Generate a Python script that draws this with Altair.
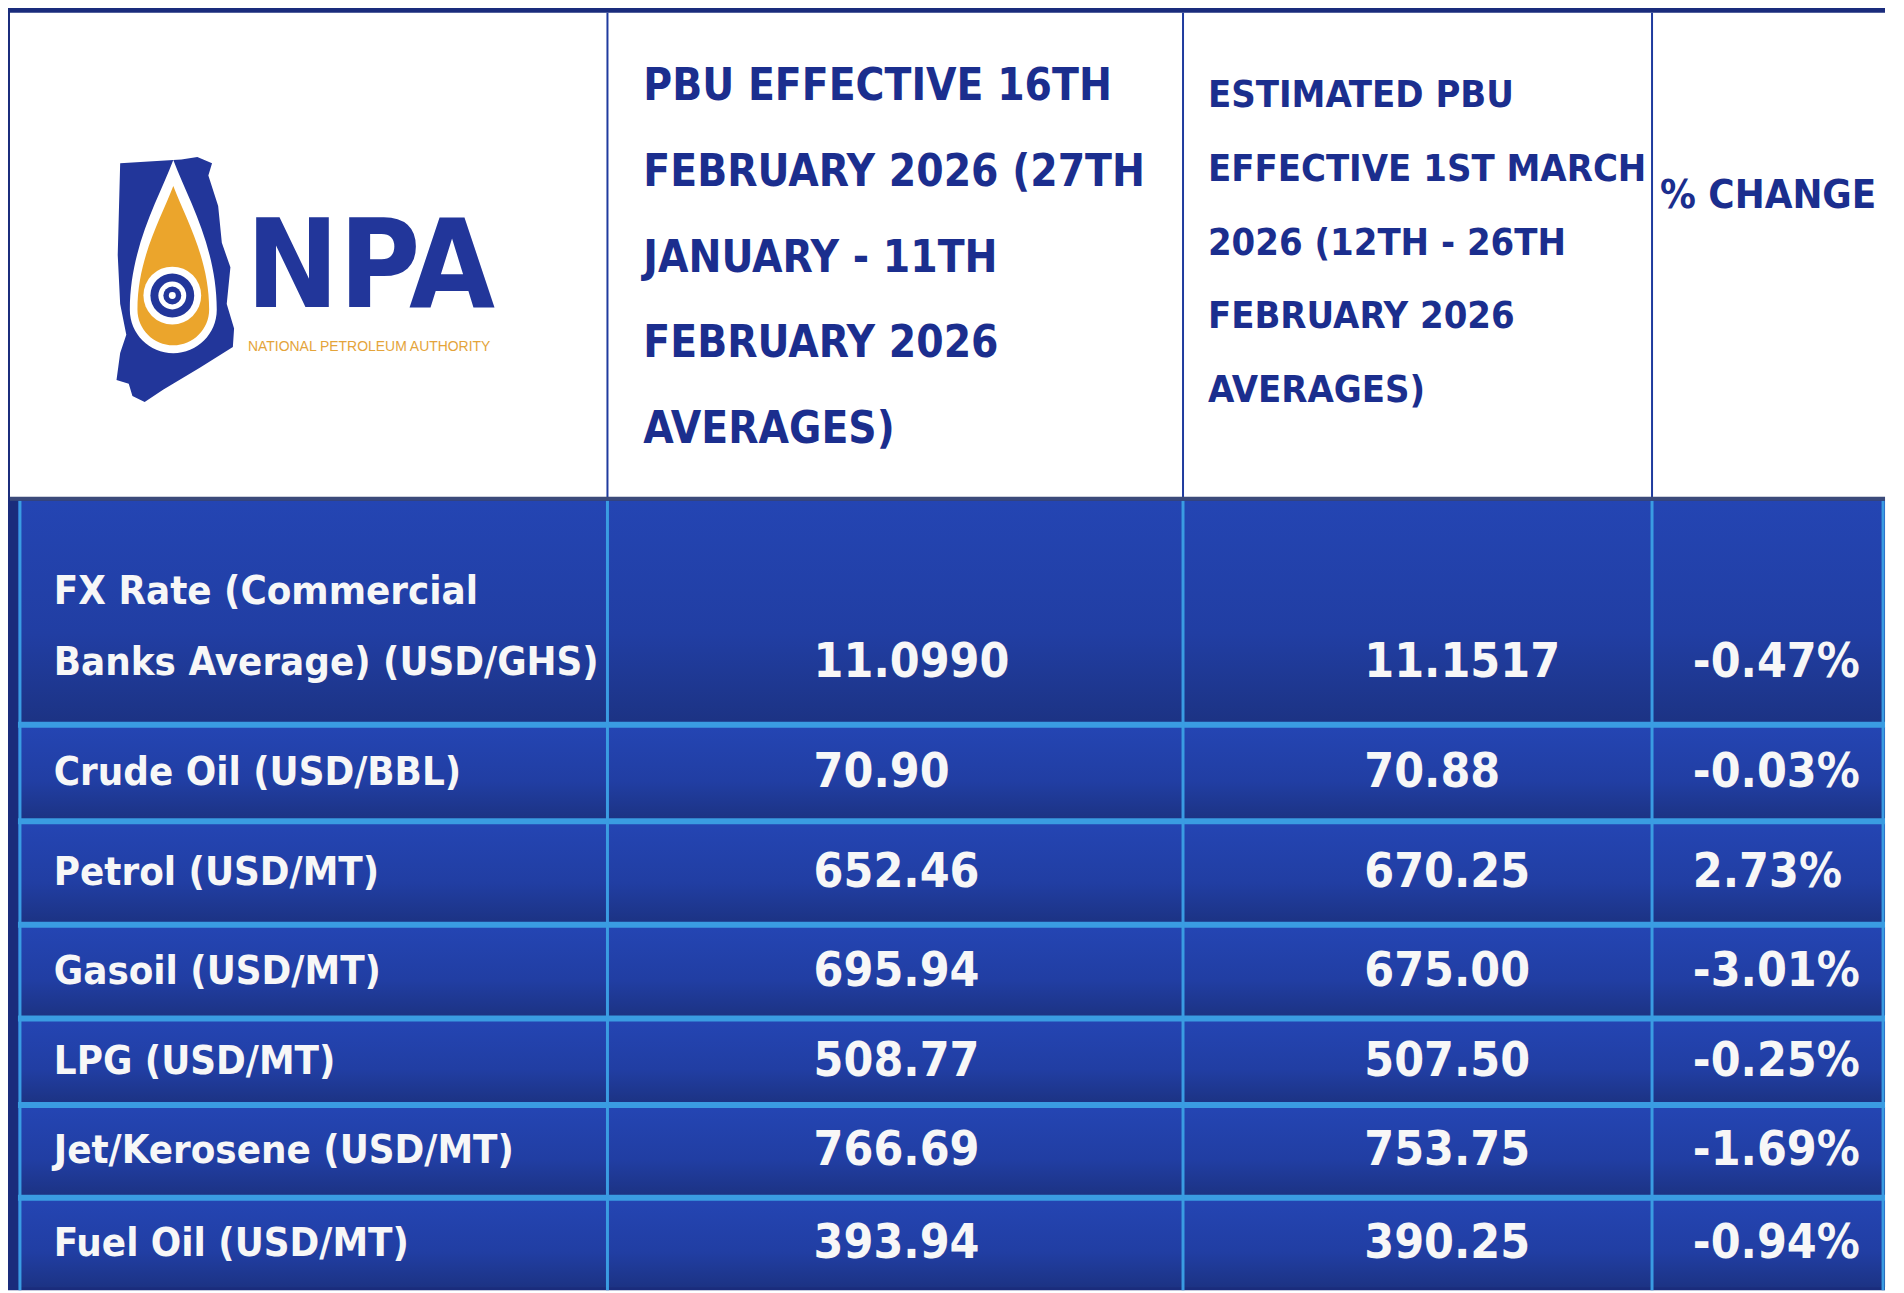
import altair as alt
import pandas as pd

# ------------------------------------------------------------------ data
items = [
    "FX Rate (Commercial\nBanks Average) (USD/GHS)",
    "Crude Oil (USD/BBL)",
    "Petrol (USD/MT)",
    "Gasoil (USD/MT)",
    "LPG (USD/MT)",
    "Jet/Kerosene (USD/MT)",
    "Fuel Oil (USD/MT)",
]
pbu_16_feb = [11.0990, 70.90, 652.46, 695.94, 508.77, 766.69, 393.94]
pbu_1_mar_est = [11.1517, 70.88, 670.25, 675.00, 507.50, 753.75, 390.25]
pct_change = [-0.47, -0.03, 2.73, -3.01, -0.25, -1.69, -0.94]
decimals = [4, 2, 2, 2, 2, 2, 2]

headers = [
    "PBU EFFECTIVE 16TH\nFEBRUARY 2026 (27TH\nJANUARY - 11TH\nFEBRUARY 2026\nAVERAGES)",
    "ESTIMATED PBU\nEFFECTIVE 1ST MARCH\n2026 (12TH - 26TH\nFEBRUARY 2026\nAVERAGES)",
    "% CHANGE",
]
logo_word = "NPA"
logo_tagline = "NATIONAL PETROLEUM AUTHORITY"

# ------------------------------------------------------------------ layout / style
OFF = 8
W, H = 1904, 1293
TABLE_RIGHT = 1893
COL_EDGES = [0, 610, 1188, 1659]
HEADER_TOP, HEADER_BOTTOM = 10, 498
ROW_EDGES = [498, 725, 822, 926, 1020, 1107, 1200, 1293]

NAVY = "#1a2c7c"
HEAD_TXT = "#1b2e8e"
SEP = "#3a9ce2"
ORANGE = "#e4a43a"
FONT = "DejaVu Sans Condensed, DejaVu Sans, sans-serif"

xs = alt.Scale(domain=[OFF, W], range=[0, W - OFF], nice=False, zero=False)
ys = alt.Scale(domain=[OFF, H], range=[0, H - OFF], nice=False, zero=False)


def X(f):
    return alt.X(f, type="quantitative", scale=xs, axis=None)


def Y(f):
    return alt.Y(f, type="quantitative", scale=ys, axis=None)


# ---- structural rectangles
rects = []
rects.append(dict(x=0, x2=TABLE_RIGHT, y=0, y2=H, fill=NAVY))
rects.append(dict(x=10, x2=TABLE_RIGHT, y=HEADER_TOP, y2=HEADER_BOTTOM, fill="#ffffff"))
rects.append(dict(x=TABLE_RIGHT, x2=W, y=0, y2=H, fill="#ffffff"))
rects_df = pd.DataFrame(rects)

row_bg = []
for i in range(len(items)):
    row_bg.append(dict(x=18, x2=TABLE_RIGHT, y=ROW_EDGES[i] + 2, y2=ROW_EDGES[i + 1] - 3))
row_bg_df = pd.DataFrame(row_bg)

lines = []
for e in ROW_EDGES[1:-1]:
    lines.append(dict(x=18, x2=TABLE_RIGHT, y=e - 3, y2=e + 3, fill=SEP))
for e in [20] + COL_EDGES[1:] + [TABLE_RIGHT - 2]:
    lines.append(dict(x=e - 1.5, x2=e + 1.5, y=HEADER_BOTTOM + 2, y2=H, fill=SEP))
for e in COL_EDGES[1:]:
    lines.append(dict(x=e - 1, x2=e + 1, y=HEADER_TOP, y2=HEADER_BOTTOM, fill="#1f3b9e"))
lines.append(dict(x=10, x2=TABLE_RIGHT, y=HEADER_BOTTOM - 2, y2=HEADER_BOTTOM + 2, fill="#3b4a7a"))
lines_df = pd.DataFrame(lines)

base_rect = alt.Chart(rects_df).mark_rect(stroke=None).encode(
    x=X("x"), x2="x2", y=Y("y"), y2="y2", fill=alt.Fill("fill:N", scale=None)
)
row_layer = alt.Chart(row_bg_df).mark_rect(
    fill=alt.LinearGradient(
        gradient="linear",
        stops=[
            alt.GradientStop(offset=0, color="#2445b3"),
            alt.GradientStop(offset=0.6, color="#213ea3"),
            alt.GradientStop(offset=1, color="#1c3384"),
        ],
        x1=0, x2=0, y1=0, y2=1,
    )
).encode(x=X("x"), x2="x2", y=Y("y"), y2="y2")
line_layer = alt.Chart(lines_df).mark_rect().encode(
    x=X("x"), x2="x2", y=Y("y"), y2="y2", fill=alt.Fill("fill:N", scale=None)
)

# ---- header text
HEAD_X = [646, 1213, 1667]
HEAD_Y0 = [85, 94, 194]
HEAD_STEP = [86, 74, 0]
HEAD_SIZE = [44, 38, 40]
head_rows = []
for c, htxt in enumerate(headers):
    for k, ln in enumerate(htxt.split("\n")):
        head_rows.append(dict(x=HEAD_X[c], y=HEAD_Y0[c] + k * HEAD_STEP[c], t=ln, s=HEAD_SIZE[c]))
head_df = pd.DataFrame(head_rows)
head_layer = alt.Chart(head_df).mark_text(
    align="left", baseline="middle", font=FONT, fontWeight="bold", color=HEAD_TXT
).encode(x=X("x"), y=Y("y"), text="t:N", size=alt.Size("s:Q", scale=None))

# ---- body text
LABEL_X = 54
LINE_STEP = 72
MULTI_SHIFT = 16
VAL_X = [817, 1370, 1700]
label_rows, value_rows = [], []
for i, lab in enumerate(items):
    parts = lab.split("\n")
    n = len(parts)
    cy = (ROW_EDGES[i] + ROW_EDGES[i + 1]) / 2
    shift = MULTI_SHIFT if n > 1 else 0
    ys_lines = [cy + (k - (n - 1) / 2) * LINE_STEP + shift for k in range(n)]
    for k, p in enumerate(parts):
        label_rows.append(dict(x=LABEL_X, y=ys_lines[k], t=p))
    vy = ys_lines[-1]
    d = decimals[i]
    value_rows.append(dict(x=VAL_X[0], y=vy, t=f"{pbu_16_feb[i]:.{d}f}"))
    value_rows.append(dict(x=VAL_X[1], y=vy, t=f"{pbu_1_mar_est[i]:.{d}f}"))
    value_rows.append(dict(x=VAL_X[2], y=vy, t=f"{pct_change[i]:.2f}%"))

label_layer = alt.Chart(pd.DataFrame(label_rows)).mark_text(
    align="left", baseline="middle", font=FONT, fontWeight="bold", fontSize=40, color="#f7f7f7"
).encode(x=X("x"), y=Y("y"), text="t:N")
value_layer = alt.Chart(pd.DataFrame(value_rows)).mark_text(
    align="left", baseline="middle", font=FONT, fontWeight="bold", fontSize=48, color="#f7f7f7"
).encode(x=X("x"), y=Y("y"), text="t:N")

# ---- logo
GHANA = ("M -0.45 -0.95 L 0.05 -0.98 L 0.18 -1 L 0.3 -0.95 L 0.27 -0.85 L 0.35 -0.6 "
         "L 0.38 -0.3 L 0.45 -0.1 L 0.42 0.2 L 0.48 0.4 L 0.47 0.55 L 0.2 0.72 L -0.1 0.9 "
         "L -0.25 1.0 L -0.35 0.95 L -0.38 0.85 L -0.48 0.82 L -0.45 0.6 L -0.4 0.45 "
         "L -0.45 0.2 L -0.47 -0.2 Z")
DROP = ("M 0 -1 C 0.15 -0.6 0.45 -0.1 0.45 0.55 A 0.45 0.45 0 0 1 -0.45 0.55 "
        "C -0.45 -0.1 -0.15 -0.6 0 -1 Z")
logo_df = pd.DataFrame([
    dict(x=176, y=278, shape=GHANA, size=246 ** 2, fill="#22369a"),
    dict(x=174, y=255, shape=DROP, size=194 ** 2, fill="#ffffff"),
    dict(x=174, y=264, shape=DROP, size=160 ** 2, fill="#eba52c"),
    dict(x=173, y=294, shape="circle", size=58 ** 2, fill="#ffffff"),
    dict(x=173, y=294, shape="circle", size=44 ** 2, fill="#22369a"),
    dict(x=173, y=294, shape="circle", size=28 ** 2, fill="#ffffff"),
    dict(x=173, y=294, shape="circle", size=18 ** 2, fill="#22369a"),
    dict(x=173, y=294, shape="circle", size=7 ** 2, fill="#ffffff"),
])
logo_layer = alt.Chart(logo_df).mark_point(filled=True, opacity=1, strokeWidth=0).encode(
    x=X("x"), y=Y("y"),
    shape=alt.Shape("shape:N", scale=None),
    size=alt.Size("size:Q", scale=None),
    fill=alt.Fill("fill:N", scale=None),
    order=alt.Order("size:Q", sort="descending"),
)
npa_layer = alt.Chart(pd.DataFrame([dict(x=247, y=306, t=logo_word)])).mark_text(
    align="left", baseline="alphabetic", font=FONT,
    fontWeight="bold", fontSize=124, color="#22369a"
).encode(x=X("x"), y=Y("y"), text="t:N")
tag_layer = alt.Chart(pd.DataFrame([dict(x=249, y=346, t=logo_tagline)])).mark_text(
    align="left", baseline="middle", font="Liberation Sans, Arial, sans-serif",
    fontSize=14, color=ORANGE
).encode(x=X("x"), y=Y("y"), text="t:N")

chart = alt.layer(
    base_rect, row_layer, line_layer, head_layer, label_layer, value_layer,
    logo_layer, npa_layer, tag_layer
).properties(
    width=W - OFF, height=H - OFF, autosize=alt.AutoSizeParams(type="none"), padding=0
).configure_view(stroke=None)

chart.save("out.html", embed_options={"renderer": "svg", "actions": False})
